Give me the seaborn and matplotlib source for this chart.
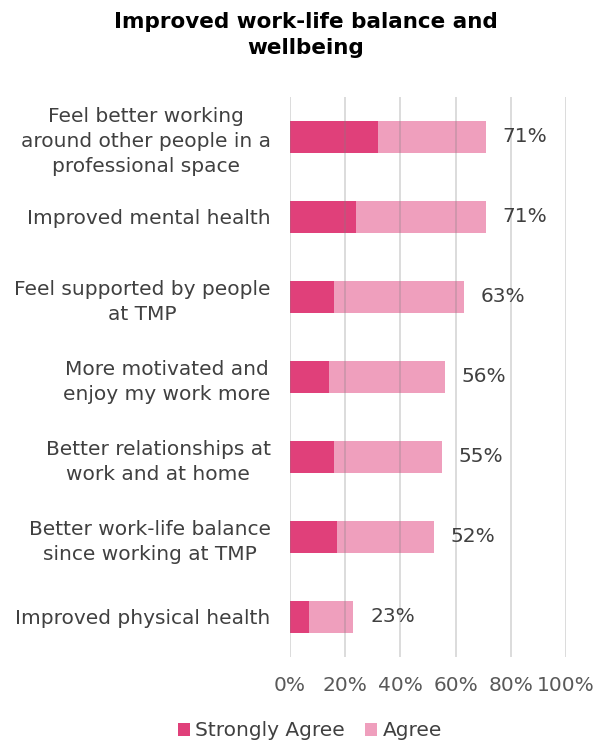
import matplotlib
matplotlib.use("Agg")
import matplotlib.pyplot as plt
import seaborn as sns
import pandas as pd

categories = [
    "Feel better working\naround other people in a\nprofessional space",
    "Improved mental health",
    "Feel supported by people\nat TMP",
    "More motivated and\nenjoy my work more",
    "Better relationships at\nwork and at home",
    "Better work-life balance\nsince working at TMP",
    "Improved physical health",
]
strongly_agree = [32, 24, 16, 14, 16, 17, 7]
agree = [39, 47, 47, 42, 39, 35, 16]
total_labels = ["71%", "71%", "63%", "56%", "55%", "52%", "23%"]
x_ticks = [0, 20, 40, 60, 80, 100]
x_tick_labels = ["0%", "20%", "40%", "60%", "80%", "100%"]

dark = "#E0407A"
light = "#EF9FBD"
text_col = "#404040"
fs = 14.5

sns.set_theme(style="white")
plt.rcParams["font.family"] = ["DejaVu Sans"]

df = pd.DataFrame({
    "category": categories,
    "Strongly Agree": strongly_agree,
    "Agree": agree,
})
df["total"] = df["Strongly Agree"] + df["Agree"]

fig = plt.figure(figsize=(5.96, 7.42), dpi=100)
ax = fig.add_axes([290 / 596, 1 - 657 / 742, 276 / 596, 560 / 742])

# Stacked bars: full (light) length first, strongly-agree segment over it
sns.barplot(data=df, y="category", x="total", orient="h", color=light,
            width=0.4, saturation=1, ax=ax, label="Agree", zorder=1,
            linewidth=0)
sns.barplot(data=df, y="category", x="Strongly Agree", orient="h", color=dark,
            width=0.4, saturation=1, ax=ax, label="Strongly Agree", zorder=2,
            linewidth=0)
if ax.get_legend() is not None:
    ax.get_legend().remove()

for i, (tot, lab) in enumerate(zip(df["total"], total_labels)):
    ax.text(tot + 6, i, lab, va="center", ha="left", fontsize=fs, color=text_col)

ax.set_xlim(0, 100)
ax.set_ylim(6.5, -0.5)
ax.set_xticks(x_ticks)
ax.set_xticklabels(x_tick_labels, fontsize=fs, color="#595959")
ax.tick_params(axis="y", labelsize=fs, labelcolor=text_col, length=0, pad=14)
ax.tick_params(axis="x", length=0, pad=14)
for t in ax.get_yticklabels():
    t.set_horizontalalignment("right")
    t.set_multialignment("center")
    t.set_linespacing(1.4)
ax.set_xlabel("")
ax.set_ylabel("")
ax.xaxis.grid(True, color="#808080", alpha=0.3, linewidth=1.3, zorder=3)
ax.set_axisbelow(False)
for s in ax.spines.values():
    s.set_visible(False)

# Legend below the chart, Strongly Agree first
handles, labels = ax.get_legend_handles_labels()
order = [labels.index("Strongly Agree"), labels.index("Agree")]
fig.legend([handles[i] for i in order], [labels[i] for i in order],
           loc="center", bbox_to_anchor=(310 / 596, 1 - 731 / 742), ncol=2,
           frameon=False, fontsize=fs, handlelength=0.6, handleheight=0.6,
           handletextpad=0.25, columnspacing=1.0, labelcolor=text_col)

fig.text(306 / 596, 1 - 35 / 742, "Improved work-life balance and\nwellbeing",
         ha="center", va="center", fontsize=15.5, fontweight="bold",
         color="black", linespacing=1.35)

fig.savefig("out.png", dpi=100)
